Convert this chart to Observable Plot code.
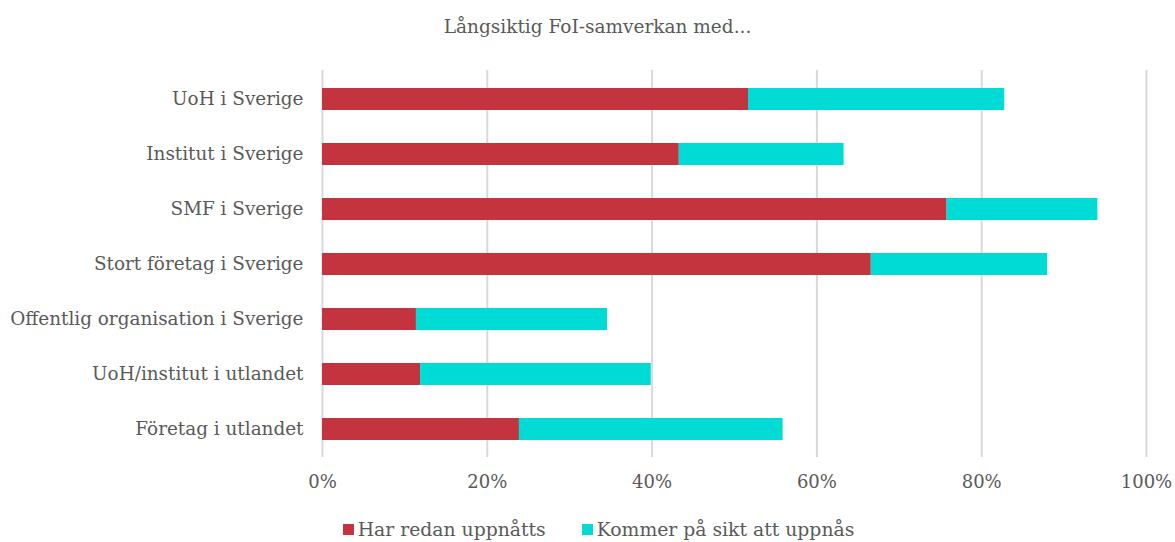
<!DOCTYPE html>
<html>
<head>
<meta charset="utf-8">
<script src="https://cdn.jsdelivr.net/npm/d3@7"></script>
<script src="https://cdn.jsdelivr.net/npm/@observablehq/plot@0.6"></script>
<style>
  html, body { margin: 0; padding: 0; background: #fff; }
  body { width: 1175px; font-family: "DejaVu Serif", Georgia, serif; color: #595959; }
  #title { height: 50px; line-height: 54px; text-align: center; font-size: 18.5px; padding-left: 20px; box-sizing: border-box; }
  #legend { height: 25px; margin-top: 12px; display: flex; justify-content: center; align-items: center; font-size: 18.8px; gap: 36px; padding-left: 22px; box-sizing: border-box; }
  .item { display: flex; align-items: center; }
  .sw { width: 11px; height: 11px; margin-right: 4px; display: inline-block; }
</style>
</head>
<body>
<div id="title">Långsiktig FoI-samverkan med...</div>
<div id="chart"></div>
<div id="legend"></div>
<script>
const categories = [
  "UoH i Sverige",
  "Institut i Sverige",
  "SMF i Sverige",
  "Stort företag i Sverige",
  "Offentlig organisation i Sverige",
  "UoH/institut i utlandet",
  "Företag i utlandet"
];
const seriesNames = ["Har redan uppnåtts", "Kommer på sikt att uppnås"];
const harRedan = [51.7, 43.3, 75.8, 66.6, 11.4, 11.9, 23.9];
const kommerPaSikt = [31.1, 20.0, 18.3, 21.4, 23.2, 28.0, 32.0];
const colors = ["#c3343e", "#00dbd5"];
const xTicks = [0, 20, 40, 60, 80, 100];

const data = [];
categories.forEach((c, i) => {
  data.push({category: c, series: seriesNames[0], value: harRedan[i]});
  data.push({category: c, series: seriesNames[1], value: kommerPaSikt[i]});
});

const chart = Plot.plot({
  width: 1175,
  height: 455,
  marginLeft: 322,
  marginRight: 29,
  marginTop: 20,
  marginBottom: 48,
  style: {fontFamily: '"DejaVu Serif", Georgia, serif', fontSize: "18px", color: "#595959", background: "#fff"},
  x: {domain: [0, 100], ticks: xTicks, tickFormat: d => d + "%", tickSize: 0, label: null},
  y: {domain: categories, paddingInner: 0.6, paddingOuter: 0.3, tickSize: 0, label: null},
  color: {domain: seriesNames, range: colors},
  marks: [
    Plot.gridX(xTicks, {stroke: "#d9d9d9", strokeOpacity: 1, strokeWidth: 2}),
    Plot.barX(data, Plot.stackX({y: "category", x: "value", fill: "series", order: seriesNames})),
    Plot.axisX({ticks: xTicks, tickFormat: d => d + "%", tickSize: 0, tickPadding: 18, fontSize: 18}),
    Plot.axisY({tickSize: 0, tickPadding: 19, fontSize: 18.4})
  ]
});
document.getElementById("chart").appendChild(chart);

const legend = document.getElementById("legend");
seriesNames.forEach((s, i) => {
  const item = document.createElement("span");
  item.className = "item";
  const sw = document.createElement("span");
  sw.className = "sw";
  sw.style.background = colors[i];
  item.appendChild(sw);
  item.appendChild(document.createTextNode(s));
  legend.appendChild(item);
});
</script>
</body>
</html>
